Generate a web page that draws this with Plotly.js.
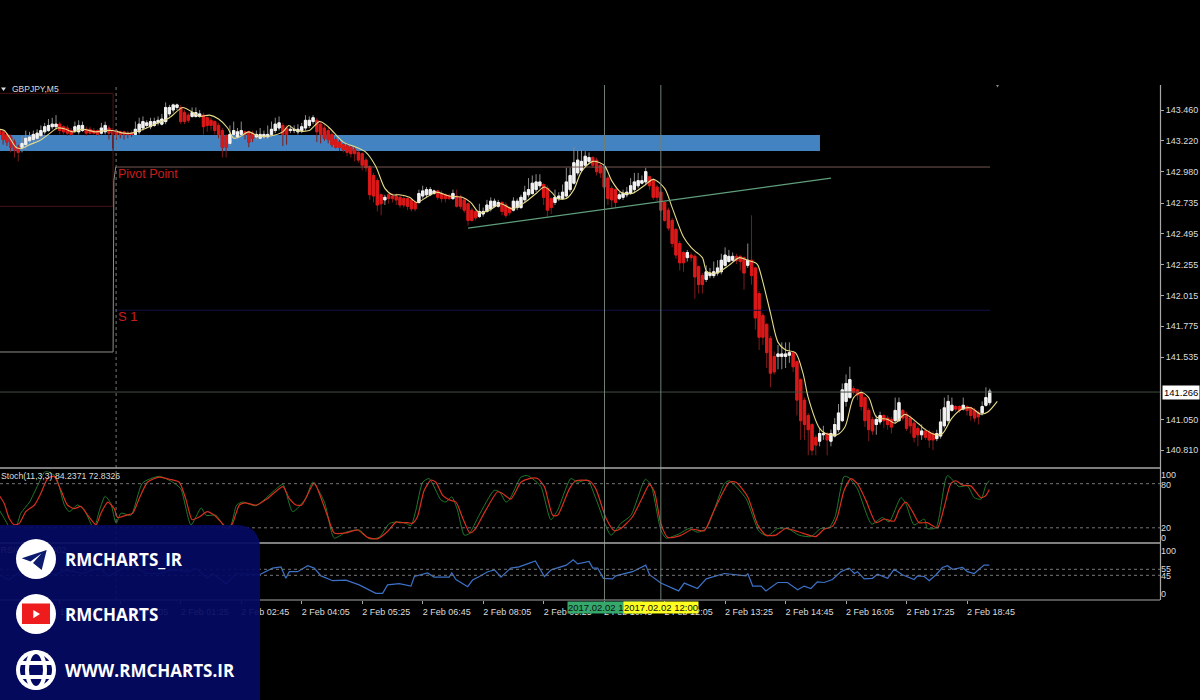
<!DOCTYPE html>
<html>
<head>
<meta charset="utf-8">
<script src="https://cdn.plot.ly/plotly-3.0.1.min.js"></script>
<style>html,body{margin:0;padding:0;background:#000;}</style>
</head>
<body>
<div id="chart" style="width:1200px;height:700px;"></div>
<script>
// GBPJPY M5 candles, one row per 80 minutes
const opens = [
143.30,143.29,143.27,143.25,143.21,143.17,143.17,143.19,143.22,143.23,143.24,143.26,143.29,143.30,143.33,143.33,
143.35,143.33,143.32,143.30,143.30,143.29,143.30,143.31,143.31,143.30,143.30,143.28,143.29,143.32,143.30,143.30,
143.29,143.29,143.28,143.28,143.27,143.29,143.32,143.34,143.33,143.34,143.36,143.35,143.37,143.43,143.46,143.48,
143.48,143.44,143.42,143.41,143.41,143.41,143.42,143.40,143.38,143.37,143.34,143.30,143.26,143.20,143.27,143.25,
143.27,143.29,143.29,143.28,143.25,143.24,143.25,143.25,143.27,143.30,143.32,143.34,143.32,143.30,143.30,143.29,
143.30,143.32,143.34,143.37,143.38,143.35,143.32,143.30,143.27,143.23,143.21,143.19,143.18,143.17,143.15,143.13,
143.12,143.07,143.02,142.95,142.91,142.80,142.76,142.80,142.79,142.79,142.78,142.77,142.77,142.76,142.74,142.74,
142.79,142.80,142.80,142.81,142.83,142.81,142.80,142.79,142.77,142.79,142.78,142.76,142.73,142.68,142.67,142.63,
142.65,142.67,142.69,142.71,142.71,142.74,142.72,142.70,142.68,142.70,142.70,142.76,142.80,142.81,142.84,142.87,
142.88,142.85,142.77,142.74,142.77,142.77,142.79,142.84,142.89,142.97,142.99,143.03,143.06,143.09,143.07,143.03,
143.02,142.93,142.85,142.84,142.77,142.78,142.80,142.81,142.84,142.87,142.89,142.90,142.94,142.91,142.86,142.82,
142.74,142.68,142.60,142.53,142.42,142.35,142.31,142.33,142.32,142.24,142.17,142.14,142.17,142.17,142.19,142.20,
142.25,142.28,142.29,142.32,142.32,142.31,142.25,142.29,142.23,142.03,141.86,141.79,141.68,141.54,141.54,141.54,
141.54,141.55,141.57,141.50,141.36,141.20,141.08,141.01,140.91,140.88,140.93,140.94,140.88,140.92,140.97,141.04,
141.19,141.22,141.29,141.28,141.26,141.22,141.12,141.05,141.01,141.03,141.08,141.06,141.05,141.04,141.04,141.12,
141.09,141.06,141.02,140.98,140.93,140.96,140.95,140.94,140.90,140.92,141.00,141.04,141.12,141.15,141.15,141.13,
141.15,141.14,141.12,141.10,141.10,141.16,141.18
];
const closes = [
143.27,143.23,143.21,143.17,143.15,143.13,143.20,143.24,143.25,143.27,143.28,143.30,143.33,143.34,143.35,143.35,
143.30,143.29,143.28,143.27,143.33,143.34,143.34,143.28,143.28,143.28,143.27,143.32,143.34,143.28,143.27,143.27,
143.27,143.27,143.27,143.27,143.31,143.35,143.37,143.36,143.37,143.37,143.38,143.39,143.48,143.48,143.50,143.50,
143.37,143.37,143.38,143.44,143.44,143.43,143.33,143.34,143.34,143.30,143.27,143.17,143.17,143.27,143.30,143.29,
143.30,143.27,143.21,143.24,143.27,143.27,143.27,143.27,143.31,143.35,143.36,143.27,143.27,143.31,143.31,143.31,
143.33,143.38,143.38,143.40,143.29,143.27,143.24,143.23,143.19,143.17,143.17,143.15,143.13,143.12,143.12,143.07,
143.03,143.01,142.80,142.79,142.72,142.73,142.78,142.77,142.77,142.76,142.72,142.72,142.71,142.69,142.69,142.81,
142.83,142.84,142.84,142.83,142.78,142.77,142.77,142.77,142.81,142.71,142.71,142.68,142.60,142.60,142.62,142.67,
142.67,142.72,142.75,142.75,142.74,142.67,142.64,142.66,142.75,142.75,142.78,142.82,142.84,142.89,142.90,142.90,
142.78,142.68,142.70,142.78,142.79,142.82,142.90,142.95,143.05,143.07,143.06,143.10,143.09,143.03,142.98,142.97,
142.86,142.77,142.76,142.74,142.80,142.81,142.82,142.87,142.90,142.91,142.91,142.98,142.87,142.78,142.78,142.68,
142.60,142.54,142.42,142.33,142.27,142.27,142.35,142.31,142.16,142.10,142.10,142.20,142.19,142.20,142.23,142.29,
142.33,142.32,142.32,142.29,142.28,142.19,142.29,142.17,141.84,141.69,141.69,141.57,141.41,141.42,141.56,141.56,
141.56,141.57,141.46,141.20,141.04,141.01,140.97,140.81,140.85,140.94,140.94,140.89,140.94,141.01,141.10,141.28,
141.33,141.36,141.26,141.24,141.15,141.04,140.97,140.96,141.05,141.08,141.04,141.01,140.99,141.12,141.18,141.06,
140.98,141.00,140.91,140.93,140.96,140.91,140.89,140.89,140.94,141.03,141.14,141.19,141.16,141.13,141.12,141.16,
141.12,141.08,141.06,141.07,141.15,141.22,141.27
];
const highs = [
143.32,143.30,143.28,143.27,143.23,143.19,143.26,143.30,143.29,143.30,143.31,143.34,143.36,143.39,143.40,143.42,
143.37,143.34,143.34,143.32,143.37,143.38,143.37,143.33,143.33,143.32,143.31,143.36,143.37,143.34,143.32,143.31,
143.30,143.30,143.30,143.30,143.37,143.40,143.41,143.38,143.40,143.40,143.41,143.43,143.52,143.50,143.51,143.51,
143.50,143.46,143.44,143.48,143.48,143.46,143.44,143.41,143.40,143.38,143.36,143.32,143.27,143.34,143.37,143.32,
143.37,143.30,143.30,143.30,143.30,143.32,143.30,143.34,143.37,143.40,143.41,143.36,143.34,143.34,143.34,143.35,
143.36,143.42,143.41,143.42,143.40,143.37,143.34,143.32,143.29,143.25,143.23,143.20,143.20,143.18,143.17,143.14,
143.13,143.09,143.03,142.97,142.93,142.81,142.80,142.81,142.81,142.81,142.80,142.79,142.78,142.77,142.75,142.84,
142.87,142.86,142.86,142.84,142.84,142.83,142.81,142.81,142.84,142.84,142.80,142.77,142.74,142.70,142.68,142.73,
142.70,142.76,142.78,142.77,142.76,142.75,142.74,142.71,142.78,142.77,142.80,142.87,142.93,142.95,142.96,142.96,
142.89,142.87,142.78,142.84,142.82,142.88,143.01,143.01,143.17,143.15,143.15,143.14,143.13,143.10,143.09,143.05,
143.03,142.95,142.87,142.85,142.82,142.84,142.86,142.93,142.97,142.97,142.95,143.01,142.95,142.93,142.88,142.84,
142.75,142.70,142.62,142.54,142.44,142.36,142.37,142.35,142.34,142.25,142.19,142.25,142.23,142.28,142.29,142.34,
142.39,142.37,142.35,142.34,142.33,142.32,142.42,142.64,142.24,142.05,141.88,141.80,141.70,141.58,141.63,141.65,
141.65,141.65,141.58,141.51,141.37,141.22,141.10,141.02,140.93,140.98,141.00,140.95,140.97,141.06,141.17,141.33,
141.40,141.46,141.31,141.29,141.28,141.23,141.14,141.07,141.08,141.11,141.09,141.08,141.07,141.22,141.22,141.13,
141.11,141.08,141.04,141.00,141.01,140.98,140.97,140.96,140.97,141.13,141.22,141.24,141.22,141.16,141.16,141.22,
141.16,141.15,141.14,141.12,141.19,141.30,141.29
];
const lows = [
143.24,143.19,143.18,143.13,143.09,143.06,143.13,143.15,143.18,143.20,143.22,143.24,143.27,143.29,143.31,143.31,
143.27,143.27,143.26,143.26,143.28,143.27,143.29,143.26,143.27,143.27,143.26,143.27,143.27,143.23,143.16,143.23,
143.24,143.23,143.24,143.25,143.27,143.27,143.30,143.32,143.31,143.33,143.34,143.34,143.35,143.41,143.44,143.46,
143.35,143.35,143.36,143.40,143.40,143.40,143.27,143.29,143.30,143.27,143.24,143.09,143.09,143.18,143.24,143.23,
143.26,143.23,143.17,143.21,143.23,143.23,143.23,143.23,143.25,143.28,143.30,143.18,143.19,143.28,143.28,143.27,
143.28,143.30,143.32,143.35,143.21,143.20,143.22,143.20,143.17,143.16,143.14,143.13,143.10,143.09,143.06,143.05,
142.99,142.98,142.76,142.74,142.67,142.64,142.72,142.73,142.74,142.72,142.70,142.70,142.68,142.67,142.67,142.73,
142.77,142.78,142.79,142.80,142.76,142.74,142.74,142.76,142.76,142.70,142.69,142.66,142.56,142.59,142.60,142.62,
142.63,142.66,142.67,142.70,142.70,142.64,142.62,142.64,142.67,142.68,142.69,142.74,142.78,142.80,142.82,142.85,
142.72,142.63,142.65,142.72,142.75,142.76,142.77,142.82,142.88,142.95,142.98,143.02,143.04,143.01,142.95,142.93,
142.84,142.72,142.70,142.70,142.76,142.76,142.78,142.80,142.82,142.85,142.88,142.88,142.84,142.76,142.75,142.67,
142.59,142.52,142.39,142.30,142.21,142.20,142.28,142.28,141.99,142.03,142.03,142.12,142.15,142.15,142.17,142.18,
142.24,142.27,142.28,142.26,142.21,142.06,142.23,142.10,141.75,141.59,141.63,141.45,141.30,141.40,141.44,141.44,
141.45,141.49,141.42,141.08,140.89,140.89,140.77,140.77,140.77,140.84,140.89,140.77,140.84,140.91,140.95,141.03,
141.15,141.21,141.24,141.20,141.12,140.99,140.88,140.93,140.93,141.01,140.98,140.97,140.94,141.02,141.03,141.04,
140.96,140.94,140.87,140.84,140.89,140.89,140.83,140.81,140.88,140.90,140.98,141.02,141.11,141.11,141.10,141.12,
141.08,141.04,141.03,141.01,141.08,141.15,141.16
];

// yellow moving average, read at its turning points
const maIndex = [0,1.3,2.6,4.4,5.7,8,10.6,13,15.4,17.6,19.4,22,25.6,28,30,33,35,39,42,45,48.5,50.7,53,55.6,58,60.4,62,63.5,66,68.3,72,75,76.6,78.5,82,84.7,87,91,94.4,97,99.6,102,104,105.8,108.5,110.4,113,115.6,119,122.5,124.7,127,129.6,132.7,135.7,139,142,144.2,146.4,147.5,150,152,154,157,160,162,164.4,167.4,171,173,176,178,181,183,184.5,186,187.2,189.7,193,195.8,197.9,200,200.7,202,204,206,208,210.6,212.6,214,217,218.6,221.6,223.7,226,228,230,232,235,237,239.6,243,245,247.7,249.5,252,254.7,257,259.7,261.6,264];
const maValues = [143.31,143.30,143.25,143.17,143.16,143.19,143.22,143.27,143.32,143.31,143.29,143.31,143.29,143.30,143.30,143.28,143.28,143.32,143.36,143.40,143.48,143.45,143.41,143.42,143.39,143.32,143.24,143.25,143.29,143.26,143.26,143.29,143.34,143.30,143.30,143.37,143.33,143.21,143.17,143.13,143.02,142.85,142.80,142.80,142.78,142.74,142.78,142.82,142.79,142.78,142.74,142.66,142.68,142.73,142.69,142.74,142.81,142.86,142.81,142.77,142.77,142.84,142.98,143.06,143.03,142.91,142.82,142.81,142.88,142.92,142.85,142.70,142.47,142.39,142.35,142.31,142.20,142.19,142.25,142.31,142.29,142.27,142.25,142.12,141.88,141.65,141.59,141.57,141.41,141.22,140.98,140.94,140.93,140.99,141.22,141.26,141.22,141.07,141.05,141.02,141.09,141.02,140.97,140.93,140.94,141.06,141.13,141.14,141.09,141.11,141.19];

// stochastic %K (green)
const stochKIndex = [0,1.3,2.6,4.4,5.7,8,10,12,13,15,17.2,18.5,20.7,22.5,25,26.5,28,29.5,30.9,32.2,34.8,37.9,42.3,45.9,48,50.7,53.4,54.7,57.3,60,61.3,62.8,64.4,67.9,72.8,75,77.6,81.1,82.9,86,88.6,91.7,95.2,97.9,100.5,103.2,105.8,107.6,108.9,110.2,112,113.7,116.8,118.1,119.7,121.2,123,124.3,126.9,130.9,132.3,134,134.9,138,139.7,141.5,143.3,145.9,147.7,151.2,153,155.6,157.8,161.8,164.4,167.1,170.9,172.4,175,176.4,179.9,182.5,184.7,187,191.8,193.1,197.5,201,203.2,205.9,208.5,211.6,214.7,217.3,219.5,221.1,223.5,224.8,227,230.8,233.6,235.4,238.5,239.8,242,244.7,245.5,247.8,250.8,253.9,256.1,257.9,259.7,261,261.9];
const stochKValues = [44,33,22,22,40,55,76,96,96,89,51,42,51,44,19,44,63,53,26,40,37,81,90,82,73,24,47,37,37,19,24,51,55,50,71,79,42,60,82,55,6,14,17,5,7,26,28,26,23,44,82,87,58,55,62,44,10,12,37,71,69,55,58,89,91,85,76,31,44,87,82,85,60,10,26,37,86,78,17,6,12,19,14,19,80,84,60,15,9,19,19,10,8,19,20,35,90,88,73,25,34,28,61,53,24,32,19,20,91,76,77,61,59,78,84];

// stochastic %D (red)
const stochDIndex = [0,1.3,2.6,4,5.3,7,9.3,11,12.8,14.5,16.3,18,19.8,21.6,23.4,25.6,26.9,28.7,30.4,31.3,33.5,35.3,37,39.2,42.3,45,47.6,49.4,51,53,55,56.9,58.6,60.4,61.7,63.5,65,68,71,75,76.7,78.5,80,83.3,85,86.9,88.6,91.7,94.8,97.4,100,102.7,105,105.8,108,109.3,110.6,112.4,114.2,115.5,117.3,119,120.8,122.6,124.5,126,128.7,131.8,133,135.3,138,140.2,142.4,144.2,146.4,147.7,150.8,152.5,156,157.8,160.5,162.7,164.4,167.5,170.2,172,173.3,175,176.8,179.9,183.4,186.5,189.1,193.1,194.9,198,200.6,202.8,205.4,208,211.2,214.2,216,218.2,220.4,221.7,223.5,225.3,227,229.2,231.9,234.1,236.7,238,239.8,241.6,243.3,245.5,248.2,250,251.7,253,254.8,257,259.7,261,261.9];
const stochDValues = [64,53,33,24,26,42,51,67,87,90,71,51,46,49,37,24,40,55,46,34,37,40,60,82,89,86,82,58,31,35,42,37,28,19,26,51,54,51,60,76,60,51,51,81,62,35,13,13,17,7,5,15,28,27,27,26,35,71,85,82,64,58,55,33,13,19,44,69,67,59,82,87,87,76,37,37,73,84,84,73,33,16,19,35,62,79,69,26,7,9,18,16,44,82,82,62,24,10,10,19,15,10,8,18,22,35,71,87,80,58,27,32,29,44,55,42,27,27,20,49,80,84,78,77,61,64,72];

// RSI (blue)
const rsiIndex = [0,2.6,4.4,6.2,10.6,15,17.6,22,26.5,29,32.6,36.2,38.8,42.3,45.9,50.3,52,55,56.4,60,62.6,68.8,72.3,74.5,75.8,76.7,78.9,81.6,83.3,85.1,88.2,91.7,95.2,99.6,101.4,102.7,105.8,108.9,109.8,113.3,115,119,119.7,120.8,123.9,125.2,127,129.2,131,132.7,135.3,137.5,139.7,141.8,144.2,146,150,151.8,153,156,157,158.3,159.8,162.2,163.1,167.5,171,172,175,179.7,181.2,184.7,187,191.8,197.5,198,199.3,201.5,202.8,205.9,208.5,211.2,212.9,214.7,216.4,218.2,220.4,222.6,224.8,226.2,227,228.8,231,232.3,235,236.7,238.9,242,242.9,244.7,246,247.8,249.5,250.8,252.2,254.8,256.1,257.9,260.5,261.9];
const rsiValues = [46,37,46,54,51,46,54,48,57,43,57,59,48,48,54,51,57,40,48,31,48,46,57,59,40,51,51,61,57,44,36,37,29,15,15,29,31,27,43,49,42,42,49,38,26,37,43,51,54,42,57,59,64,69,43,54,62,71,64,68,57,57,40,39,44,51,62,46,32,19,32,23,39,48,44,48,27,27,19,33,33,21,27,23,34,33,38,51,57,48,51,39,40,47,40,55,46,38,44,43,36,46,58,61,55,58,51,48,62,62];

// axis labels
const timeTickIndex = [0,16,32,48,64,80,96,112,128,144,160,176,192,208,224,240,256];
const timeTickLabels = ["1 Feb 21:25","1 Feb 22:45","2 Feb 00:05","2 Feb 01:25","2 Feb 02:45","2 Feb 04:05","2 Feb 05:25","2 Feb 06:45","2 Feb 08:05","2 Feb 09:25","2 Feb 10:45","2 Feb 12:05","2 Feb 13:25","2 Feb 14:45","2 Feb 16:05","2 Feb 17:25","2 Feb 18:45"];
const priceTicks = [143.46,143.22,142.98,142.735,142.495,142.255,142.015,141.775,141.535,141.05,140.81];
const priceTickLabels = ["143.460","143.220","142.980","142.735","142.495","142.255","142.015","141.775","141.535","141.050","140.810"];
const stochTickPos = [92.5,79,19.6,7];
const stochTickLabels = ["100","80","20","0"];
const rsiTickPos = [86,56,43.3,13.3];
const rsiTickLabels = ["100","55","45","0"];
const stochLevels = [80,20];
const rsiLevels = [55,45];

// levels drawn on the price panel
const bidPrice = 141.263;
const zoneTop = 143.265, zoneBottom = 143.14, zoneEnd = 217.1;
const pivotIndex = [30.8,262.1];
const pivotValues = [143.016,143.016];
const stepIndex = [0,30.1,30.3,30.8];
const stepValues = [141.575,141.575,142.91,143.016];
const oldLevelIndex = [0,30.1,30.1,0];
const oldLevelValues = [143.59,143.59,142.71,142.71];
const s1Index = [30.8,262.1];
const s1Values = [141.9,141.9];
const trendIndex = [124,220];
const trendValues = [142.54,142.93];
const dayBreakIndex = 30.9;
const crossIndex = [160.1,175];

const WIDTH = 1200, HEIGHT = 700;
const L = 0, R = 40, T = 85, B = 100;
const plotW = WIDTH - L - R, plotH = HEIGHT - T - B;
const fx = (px) => (px - L) / plotW;
const fy = (py) => (HEIGHT - B - py) / plotH;
const poly = (pts) =>
  "M" + pts.map((p) => fx(p[0]) + "," + fy(p[1])).join(" L") + " Z";

const axisColor = "#a8a8a8";
const textColor = "#dcdcdc";
const font = "Liberation Sans, Arial, sans-serif";
const navy = "#040a62";

const wicks = {
  type: "candlestick",
  x: opens.map((o, i) => i),
  open: opens,
  high: highs,
  low: lows,
  close: closes,
  increasing: { line: { color: "#8c8c8c", width: 1 }, fillcolor: "#f2f2f2" },
  decreasing: { line: { color: "#7c1c1c", width: 1 }, fillcolor: "#dc1818" },
  whiskerwidth: 0,
  hoverinfo: "skip",
};
const bodies = {
  type: "candlestick",
  x: opens.map((o, i) => i),
  open: opens,
  high: opens.map((o, i) => Math.max(o, closes[i])),
  low: opens.map((o, i) => Math.min(o, closes[i])),
  close: closes,
  increasing: { line: { color: "#f2f2f2", width: 1 }, fillcolor: "#f2f2f2" },
  decreasing: { line: { color: "#dc1818", width: 1 }, fillcolor: "#dc1818" },
  whiskerwidth: 0,
  hoverinfo: "skip",
};
const lineTrace = (x, y, color, width, yaxis, smooth) => ({
  type: "scatter",
  mode: "lines",
  x: x,
  y: y,
  yaxis: yaxis,
  line: smooth
    ? { color: color, width: width, shape: "spline", smoothing: smooth }
    : { color: color, width: width },
  hoverinfo: "skip",
});

const rsiLabel = {
  type: "scatter",
  mode: "text",
  x: [0.3],
  y: [86],
  yaxis: "y3",
  text: ["RSI(14) 56.6902"],
  textposition: "middle right",
  textfont: { family: font, size: 9, color: textColor },
  cliponaxis: false,
  hoverinfo: "skip",
};

const traces = [
  lineTrace(oldLevelIndex, oldLevelValues, "#4a1414", 1, "y"),
  lineTrace(stepIndex, stepValues, "#8f8f86", 1, "y"),
  lineTrace(pivotIndex, pivotValues, "#75574f", 1, "y"),
  lineTrace(s1Index, s1Values, "#10104a", 1, "y"),
  lineTrace([0, 307], [bidPrice, bidPrice], "#454d45", 1, "y"),
  wicks,
  bodies,
  lineTrace(maIndex, maValues, "#e6dc8a", 1.1, "y", 0.8),
  lineTrace(trendIndex, trendValues, "#5f9f7c", 1.3, "y"),
  lineTrace(stochKIndex, stochKValues, "#1f7a2c", 1, "y2", 0.6),
  lineTrace(stochDIndex, stochDValues, "#d8301f", 1.2, "y2", 0.6),
  lineTrace(rsiIndex, rsiValues, "#3c72c8", 1.2, "y3"),
  rsiLabel,
];

const paperLine = (x0, y0, x1, y1, color, width, dash) => ({
  type: "line",
  xref: "paper",
  yref: "paper",
  x0: fx(x0),
  y0: fy(y0),
  x1: fx(x1),
  y1: fy(y1),
  line: { color: color, width: width, dash: dash || "solid" },
});

const shapes = [
  {
    type: "rect",
    layer: "below",
    xref: "x",
    yref: "y",
    x0: 0,
    x1: zoneEnd,
    y0: zoneBottom,
    y1: zoneTop,
    fillcolor: "#4483c2",
    line: { width: 0 },
  },
];
stochLevels.forEach((v) =>
  shapes.push({
    type: "line",
    xref: "paper",
    yref: "y2",
    x0: 0,
    x1: 1,
    y0: v,
    y1: v,
    line: { color: "#777", width: 1, dash: "dot" },
  })
);
rsiLevels.forEach((v) =>
  shapes.push({
    type: "line",
    xref: "paper",
    yref: "y3",
    x0: 0,
    x1: 1,
    y0: v,
    y1: v,
    line: { color: "#777", width: 1, dash: "dot" },
  })
);
crossIndex.forEach((v) =>
  shapes.push({
    type: "line",
    xref: "x",
    yref: "paper",
    x0: v,
    x1: v,
    y0: 0,
    y1: 1,
    line: { color: "#6f7f74", width: 1 },
  })
);
shapes.push({
  type: "line",
  xref: "x",
  yref: "paper",
  x0: dayBreakIndex,
  x1: dayBreakIndex,
  y0: 0,
  y1: 1,
  line: { color: "#777", width: 1, dash: "dot" },
});
// panel borders
shapes.push(paperLine(0, 468, 1160, 468, axisColor, 1.6));
shapes.push(paperLine(0, 543, 1160, 543, axisColor, 1.6));
shapes.push(paperLine(0, 600, 1160, 600, axisColor, 1.2));
shapes.push(paperLine(1160.5, 85, 1160.5, 600, axisColor, 1.2));
// small markers at the top of the window
shapes.push({ type: "path", xref: "paper", yref: "paper", path: poly([[1, 87.5], [6, 87.5], [3.5, 91]]), fillcolor: "#ddd", line: { width: 0 } });
shapes.push({ type: "path", xref: "paper", yref: "paper", path: poly([[996, 85], [999, 85], [997.5, 87.5]]), fillcolor: "#888", line: { width: 0 } });

// contact card over the lower left corner
shapes.push({
  type: "path",
  xref: "paper",
  yref: "paper",
  path:
    "M" + fx(0) + "," + fy(525) +
    " L" + fx(236) + "," + fy(525) +
    " Q" + fx(260) + "," + fy(525) + " " + fx(260) + "," + fy(549) +
    " L" + fx(260) + "," + fy(700) +
    " L" + fx(0) + "," + fy(700) + " Z",
  fillcolor: navy,
  opacity: 0.93,
  line: { width: 0 },
});
const circle = (cx, cy, rx, ry, fill, lineColor, lineWidth) => ({
  type: "circle",
  xref: "paper",
  yref: "paper",
  x0: fx(cx - rx),
  x1: fx(cx + rx),
  y0: fy(cy + ry),
  y1: fy(cy - ry),
  fillcolor: fill,
  line: { color: lineColor || fill, width: lineWidth === undefined ? 0 : lineWidth },
});
const pathShape = (pts, fill) => ({
  type: "path",
  xref: "paper",
  yref: "paper",
  path: poly(pts),
  fillcolor: fill,
  line: { width: 0 },
});
// telegram
shapes.push(circle(36, 559, 20, 20, "#ffffff"));
shapes.push(pathShape([[46.7, 550], [21.7, 558.3], [30.5, 561.5], [41.5, 553.5], [33, 563], [41.7, 570]], "#0d1b6e"));
// youtube
shapes.push(circle(36, 614, 20, 20, "#ffffff"));
shapes.push({
  type: "rect",
  xref: "paper",
  yref: "paper",
  x0: fx(23),
  x1: fx(49),
  y0: fy(623),
  y1: fy(604.5),
  fillcolor: "#ee1c1c",
  line: { color: "#ee1c1c", width: 2 },
});
shapes.push(pathShape([[33.3, 610], [40, 614], [33.3, 618.3]], "#ffffff"));
// globe
shapes.push(circle(36, 670, 20, 20, "#ffffff"));
shapes.push(circle(36, 670, 16, 16, navy));
shapes.push(circle(36, 670, 9, 18, "rgba(0,0,0,0)", "#ffffff", 4));
shapes.push(paperLine(18, 663, 54, 663, "#ffffff", 4));
shapes.push(paperLine(18, 677, 54, 677, "#ffffff", 4));

const paperText = (text, px, py, size, color, extra) =>
  Object.assign(
    {
      xref: "paper",
      yref: "paper",
      x: fx(px),
      y: fy(py),
      text: text,
      showarrow: false,
      xanchor: "left",
      yanchor: "middle",
      borderpad: 0,
      font: { family: font, size: size, color: color },
    },
    extra || {}
  );
const flag = (index, label, bg) => ({
  xref: "x",
  yref: "paper",
  x: index,
  y: fy(607.7),
  text: label,
  showarrow: false,
  xanchor: "center",
  yanchor: "middle",
  bgcolor: bg,
  borderpad: 0,
  font: { family: font, size: 9.5, color: "#101010" },
});

const cardFont = "Open Sans, sans-serif";
const cardText = (text, py) =>
  paperText("<b>" + text + "</b>", 64, py, 17, "#ffffff", {
    font: { family: cardFont, size: 17, color: "#ffffff" },
  });
const annotations = [
  paperText("GBPJPY,M5", 11, 89.5, 8.5, textColor),
  paperText("Pivot Point", 116.5, 174, 12.5, "#c81e1e"),
  paperText("S 1", 116.5, 316.5, 13, "#c81e1e"),
  paperText("Stoch(11,3,3) 84.2371 72.8326", 0, 475.5, 8.7, textColor),
  paperText("141.266", 1161.5, 392, 9.5, "#000000", { bgcolor: "#ffffff", borderpad: 1 }),
  flag(crossIndex[0], "2017.02.02 10:45", "#35a86c"),
  flag(crossIndex[1], "2017.02.02 12:00", "#ffff20"),
  cardText("RMCHARTS_IR", 559),
  cardText("RMCHARTS", 614),
  cardText("WWW.RMCHARTS.IR", 670),
];

const layout = {
  width: WIDTH,
  height: HEIGHT,
  margin: { l: L, r: R, t: T, b: B, pad: 0 },
  paper_bgcolor: "#000000",
  plot_bgcolor: "#000000",
  showlegend: false,
  dragmode: false,
  boxmode: "overlay",
  boxgap: 0.15,
  font: { family: font, size: 9, color: textColor },
  xaxis: {
    anchor: "y3",
    range: [0.18, 307.05],
    rangeslider: { visible: false },
    showgrid: false,
    zeroline: false,
    showline: false,
    tickmode: "array",
    tickvals: timeTickIndex,
    ticktext: timeTickLabels,
    ticks: "outside",
    ticklen: 3,
    tickcolor: axisColor,
    ticklabelshift: 24,
    tickfont: { family: font, size: 9, color: textColor },
  },
  yaxis: {
    domain: [fy(467), 1],
    range: [140.679, 143.655],
    side: "right",
    showgrid: false,
    zeroline: false,
    tickmode: "array",
    tickvals: priceTicks,
    ticktext: priceTickLabels,
    ticks: "outside",
    ticklen: 3,
    tickcolor: axisColor,
    tickfont: { family: font, size: 9, color: textColor },
  },
  yaxis2: {
    domain: [fy(542.5), fy(469)],
    range: [0, 100],
    side: "right",
    anchor: "x",
    showgrid: false,
    zeroline: false,
    tickmode: "array",
    tickvals: stochTickPos,
    ticktext: stochTickLabels,
    ticks: "",
    tickfont: { family: font, size: 9, color: textColor },
  },
  yaxis3: {
    domain: [0, fy(544)],
    range: [3.8, 97.2],
    side: "right",
    anchor: "x",
    showgrid: false,
    zeroline: false,
    tickmode: "array",
    tickvals: rsiTickPos,
    ticktext: rsiTickLabels,
    ticks: "",
    tickfont: { family: font, size: 9, color: textColor },
  },
  shapes: shapes,
  annotations: annotations,
};

Plotly.newPlot("chart", traces, layout, { displayModeBar: false, staticPlot: true });
</script>
</body>
</html>
